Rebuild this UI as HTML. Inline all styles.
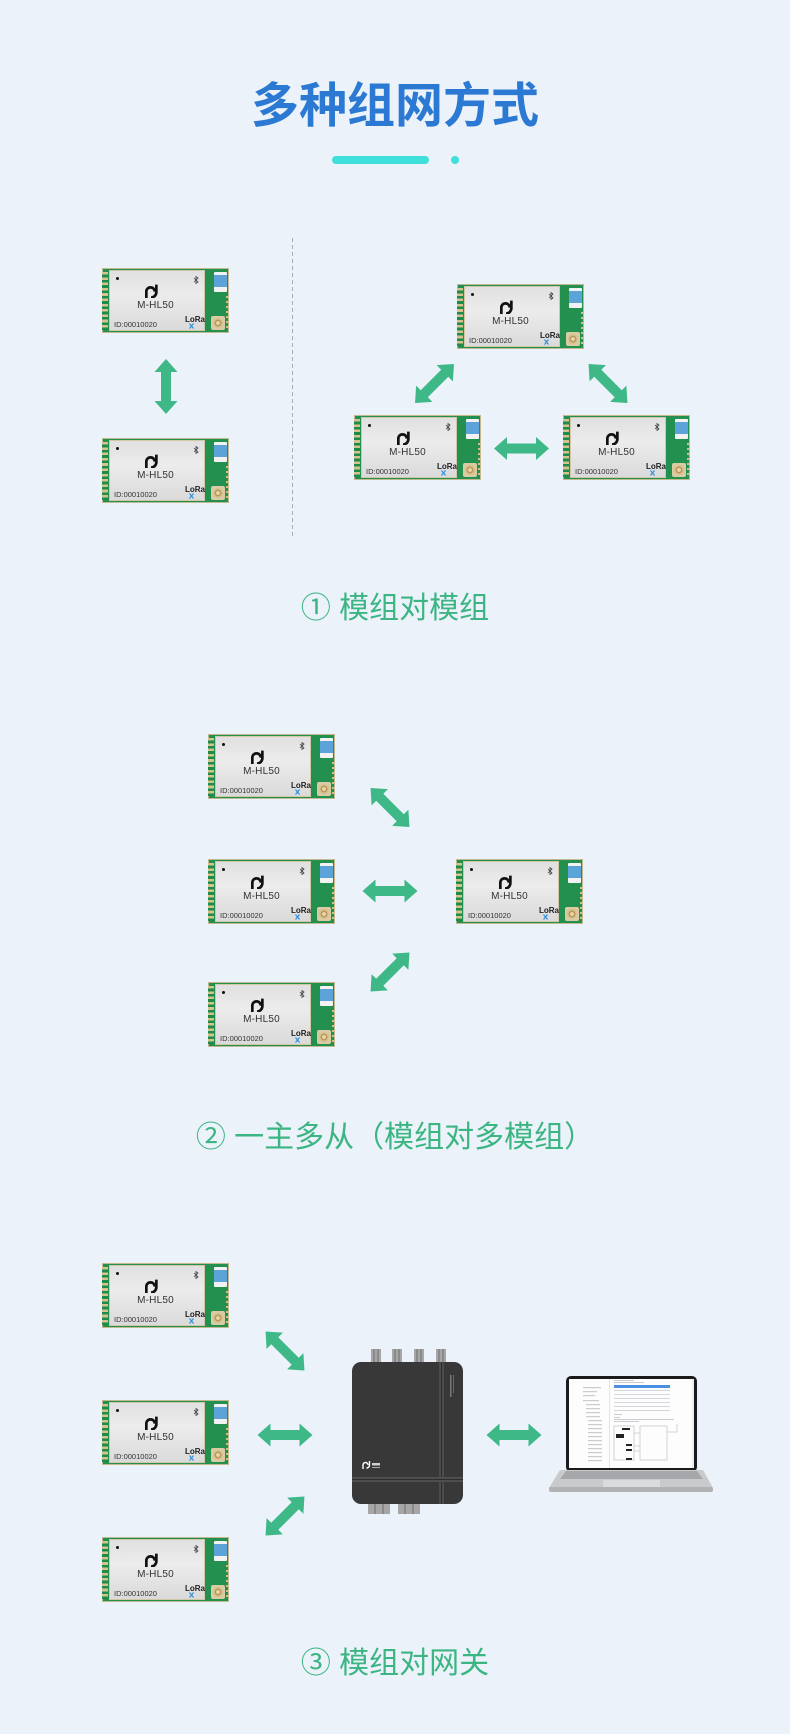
<!DOCTYPE html>
<html><head><meta charset="utf-8">
<style>
*{margin:0;padding:0}
html,body{width:790px;height:1734px;overflow:hidden;background:#ebf2fa}
body{position:relative;font-family:"Liberation Sans","Noto Sans CJK SC",sans-serif}
.t{position:absolute;left:0;top:83px;width:790px;text-align:center;font-size:48px;line-height:48px;font-weight:700;color:#2b79d3;font-family:"Liberation Sans","Noto Sans CJK SC",sans-serif}
.bar{position:absolute;left:332px;top:156px;width:97px;height:8px;border-radius:4px;background:#3fe0dc}
.dt{position:absolute;left:451px;top:156px;width:8px;height:8px;border-radius:50%;background:#3fe0dc}
.lb{position:absolute;left:0;width:790px;text-align:center;font-size:30px;line-height:30px;color:#3cb583;font-family:"Liberation Sans","Noto Sans CJK SC",sans-serif}
.m{position:absolute;width:127px;height:65px;background:#23904f;box-shadow:inset 0 0 0 1px #c2b98f}
.m .p{position:absolute;left:0;top:4px;width:6px;height:58px;background:repeating-linear-gradient(#d3c48d 0 2.6px,#1f8a4a 2.6px 5.3px)}
.m .s{position:absolute;left:7px;top:2px;width:96px;height:61px;box-sizing:border-box;border:1px solid #d0c6a8;background:linear-gradient(180deg,#e0e0e0,#ececec 40%,#dadada)}
.m .c{position:absolute;left:112px;top:4px;width:13px;height:20px;border-radius:1px;background:linear-gradient(#f2f2f2 0 3px,#5ba3d8 3px 15px,#f2f2f2 15px)}
.m .x{position:absolute;left:109px;top:48px;width:14px;height:14px;border-radius:2px;background:#d9cba3}
.m .x::after{content:"";position:absolute;left:2px;top:2px;width:10px;height:10px;border-radius:50%;background:radial-gradient(circle,#e6d6a8 0 25%,#b8965c 30% 45%,#d6c08a 50%)}
.m .r{position:absolute;left:124px;top:28px;width:3px;height:33px;background:repeating-linear-gradient(#cfc08b 0 2px,transparent 2px 5px)}
.m .d{position:absolute;left:6px;top:6px;width:3px;height:3px;border-radius:50%;background:#111}
.m .g{position:absolute;left:34px;top:13px;width:14px;height:14px}
.m .b{position:absolute;left:83px;top:5px;width:6px;height:8px}
.m .n{position:absolute;left:0;top:29px;width:91px;text-align:center;font-size:10px;line-height:12px;color:#333;white-space:nowrap;letter-spacing:.2px}
.m .i{position:absolute;left:4px;top:49px;font-size:7.5px;line-height:10px;color:#333;white-space:nowrap}
.m .l{position:absolute;left:75px;top:44px;font-size:8px;line-height:10px;font-weight:700;color:#222}
.m .a{position:absolute;left:79px;top:52px;width:5px;height:6px}
svg.o{position:absolute;left:0;top:0}
</style></head><body>

<div class="t">多种组网方式</div>
<div class="bar"></div><div class="dt"></div>

<svg class="o" width="790" height="1734" viewBox="0 0 790 1734">
<defs><polygon id="ar" points="-27.5,0 -14.5,-11.5 -14.5,-5 14.5,-5 14.5,-11.5 27.5,0 14.5,11.5 14.5,5 -14.5,5 -14.5,11.5" fill="#3db886"/></defs>
<line x1="292.5" y1="238" x2="292.5" y2="537" stroke="#a9adb3" stroke-width="1" stroke-dasharray="4 3"/>
<use href="#ar" transform="translate(166 386.5) rotate(90)"/>
<use href="#ar" transform="translate(434.5 383.5) rotate(-45)"/>
<use href="#ar" transform="translate(608 383.5) rotate(45)"/>
<use href="#ar" transform="translate(521.5 448.5)"/>
<use href="#ar" transform="translate(390 807.5) rotate(45)"/>
<use href="#ar" transform="translate(390 891)"/>
<use href="#ar" transform="translate(390 972) rotate(-45)"/>
<use href="#ar" transform="translate(285 1351) rotate(45)"/>
<use href="#ar" transform="translate(285 1435)"/>
<use href="#ar" transform="translate(285 1516) rotate(-45)"/>
<use href="#ar" transform="translate(514 1435)"/>

<g fill="#a6a6a6">
<rect x="371" y="1349" width="10" height="14"/><rect x="392" y="1349" width="10" height="14"/><rect x="414" y="1349" width="10" height="14"/><rect x="436" y="1349" width="10" height="14"/>
<rect x="368" y="1500" width="22" height="14"/><rect x="398" y="1500" width="22" height="14"/>
</g>
<g stroke="#6d6d6d" stroke-width="1">
<line x1="374" y1="1349" x2="374" y2="1362"/><line x1="378" y1="1349" x2="378" y2="1362"/>
<line x1="395" y1="1349" x2="395" y2="1362"/><line x1="399" y1="1349" x2="399" y2="1362"/>
<line x1="417" y1="1349" x2="417" y2="1362"/><line x1="421" y1="1349" x2="421" y2="1362"/>
<line x1="439" y1="1349" x2="439" y2="1362"/><line x1="443" y1="1349" x2="443" y2="1362"/>
<line x1="375" y1="1504" x2="375" y2="1514"/><line x1="383" y1="1504" x2="383" y2="1514"/>
<line x1="405" y1="1504" x2="405" y2="1514"/><line x1="413" y1="1504" x2="413" y2="1514"/>
</g>
<rect x="352" y="1362" width="111" height="142" rx="9" fill="#383838"/>
<rect x="439" y="1362" width="5" height="142" fill="#4c4c4c"/>
<rect x="441" y="1362" width="1" height="142" fill="#2c2c2c"/>
<rect x="352" y="1477" width="111" height="5" fill="#4e4e4e"/>
<rect x="352" y="1479" width="111" height="1" fill="#2c2c2c"/>
<path d="M363 1469v-4a2.5 2.5 0 0 1 5 0M369.5 1461v4a3 3 0 0 1-3 3" fill="none" stroke="#fff" stroke-width="1.4"/>
<rect x="372" y="1463" width="8" height="2.5" fill="#cfcfcf"/><rect x="372" y="1467" width="8" height="1" fill="#aaa"/>
<rect x="450" y="1375" width="1.5" height="22" fill="#777"/><rect x="453" y="1375" width="1" height="18" fill="#666"/>

<rect x="566" y="1376" width="131" height="96" rx="5" fill="#1b1b1b"/>
<rect x="569" y="1379" width="125" height="89" fill="#fdfdfd"/>
<g fill="#c9ccd1">
<rect x="583" y="1387" width="18" height="1.2"/><rect x="583" y="1391" width="14" height="1.2"/><rect x="583" y="1395" width="12" height="1.2"/><rect x="583" y="1400" width="16" height="1.2"/>
<rect x="586" y="1404" width="14" height="1.2"/><rect x="586" y="1408" width="14" height="1.2"/><rect x="586" y="1412" width="14" height="1.2"/><rect x="586" y="1416" width="14" height="1.2"/>
<rect x="588" y="1420" width="14" height="1.2"/><rect x="588" y="1424" width="14" height="1.2"/><rect x="588" y="1428" width="14" height="1.2"/><rect x="588" y="1432" width="14" height="1.2"/>
<rect x="588" y="1436" width="14" height="1.2"/><rect x="588" y="1440" width="14" height="1.2"/><rect x="588" y="1444" width="14" height="1.2"/><rect x="588" y="1448" width="14" height="1.2"/>
<rect x="588" y="1452" width="14" height="1.2"/><rect x="588" y="1456" width="14" height="1.2"/><rect x="588" y="1460" width="14" height="1.2"/>
<rect x="614" y="1380" width="20" height="1"/><rect x="614" y="1382" width="30" height="1"/>
<rect x="614" y="1390" width="56" height="0.8"/><rect x="614" y="1394" width="56" height="0.8"/><rect x="614" y="1398" width="56" height="0.8"/><rect x="614" y="1402" width="56" height="0.8"/><rect x="614" y="1406" width="56" height="0.8"/><rect x="614" y="1410" width="56" height="0.8"/>
<rect x="614" y="1414" width="8" height="1"/><rect x="614" y="1417" width="6" height="1"/><rect x="614" y="1419" width="60" height="1"/><rect x="614" y="1421" width="25" height="1"/>
</g>
<rect x="614" y="1385" width="56" height="3" fill="#4a90e2"/>
<rect x="609" y="1379" width="1" height="89" fill="#e2e4e8"/>
<g fill="none" stroke="#c5c8cc" stroke-width=".8">
<rect x="614" y="1426" width="20" height="34"/><rect x="640" y="1426" width="27" height="34"/>
<path d="M634 1433h6M634 1446h6M634 1451h6M667 1432h10v-8"/>
</g>
<g fill="#222"><rect x="622" y="1428" width="8" height="2"/><rect x="616" y="1434" width="8" height="4"/><rect x="626" y="1444" width="6" height="2"/><rect x="626" y="1449" width="6" height="2"/><rect x="626" y="1458" width="6" height="2"/></g>
<rect x="692" y="1379" width="2" height="89" fill="#eee"/>
<polygon points="560,1470 703,1470 713,1488 549,1488" fill="#c9cacc"/>
<polygon points="566,1471 697,1471 703,1479 560,1479" fill="#a5a7aa"/>
<rect x="603" y="1480" width="57" height="7" fill="#dadbdd"/>
<rect x="549" y="1487" width="164" height="5" rx="2" fill="#b1b2b4"/>
</svg>

<div class="m" style="left:102px;top:268px"><i class="p"></i><div class="s"><i class="d"></i><svg class="g" viewBox="0 0 12 12"><path d="M2 12V6.5a3.6 3.6 0 0 1 7.2 0M10.6 0.5V7a4.6 4.6 0 0 1-4.6 4.6" fill="none" stroke="#111" stroke-width="2.3"/></svg><svg class="b" viewBox="0 0 6 8"><path d="M1 2l4 4-2 1.5V0.5L5 2 1 6" fill="none" stroke="#444" stroke-width=".8"/></svg><span class="n">M-HL50</span><span class="i">ID:00010020</span><span class="l">LoRa</span><svg class="a" viewBox="0 0 5 6"><path d="M0.5 0.5l4 5M4.5 0.5l-4 5" stroke="#2f8fe0" stroke-width="1.2"/></svg></div><i class="c"></i><i class="x"></i><i class="r"></i></div>
<div class="m" style="left:102px;top:438px"><i class="p"></i><div class="s"><i class="d"></i><svg class="g" viewBox="0 0 12 12"><path d="M2 12V6.5a3.6 3.6 0 0 1 7.2 0M10.6 0.5V7a4.6 4.6 0 0 1-4.6 4.6" fill="none" stroke="#111" stroke-width="2.3"/></svg><svg class="b" viewBox="0 0 6 8"><path d="M1 2l4 4-2 1.5V0.5L5 2 1 6" fill="none" stroke="#444" stroke-width=".8"/></svg><span class="n">M-HL50</span><span class="i">ID:00010020</span><span class="l">LoRa</span><svg class="a" viewBox="0 0 5 6"><path d="M0.5 0.5l4 5M4.5 0.5l-4 5" stroke="#2f8fe0" stroke-width="1.2"/></svg></div><i class="c"></i><i class="x"></i><i class="r"></i></div>
<div class="m" style="left:457px;top:284px"><i class="p"></i><div class="s"><i class="d"></i><svg class="g" viewBox="0 0 12 12"><path d="M2 12V6.5a3.6 3.6 0 0 1 7.2 0M10.6 0.5V7a4.6 4.6 0 0 1-4.6 4.6" fill="none" stroke="#111" stroke-width="2.3"/></svg><svg class="b" viewBox="0 0 6 8"><path d="M1 2l4 4-2 1.5V0.5L5 2 1 6" fill="none" stroke="#444" stroke-width=".8"/></svg><span class="n">M-HL50</span><span class="i">ID:00010020</span><span class="l">LoRa</span><svg class="a" viewBox="0 0 5 6"><path d="M0.5 0.5l4 5M4.5 0.5l-4 5" stroke="#2f8fe0" stroke-width="1.2"/></svg></div><i class="c"></i><i class="x"></i><i class="r"></i></div>
<div class="m" style="left:354px;top:415px"><i class="p"></i><div class="s"><i class="d"></i><svg class="g" viewBox="0 0 12 12"><path d="M2 12V6.5a3.6 3.6 0 0 1 7.2 0M10.6 0.5V7a4.6 4.6 0 0 1-4.6 4.6" fill="none" stroke="#111" stroke-width="2.3"/></svg><svg class="b" viewBox="0 0 6 8"><path d="M1 2l4 4-2 1.5V0.5L5 2 1 6" fill="none" stroke="#444" stroke-width=".8"/></svg><span class="n">M-HL50</span><span class="i">ID:00010020</span><span class="l">LoRa</span><svg class="a" viewBox="0 0 5 6"><path d="M0.5 0.5l4 5M4.5 0.5l-4 5" stroke="#2f8fe0" stroke-width="1.2"/></svg></div><i class="c"></i><i class="x"></i><i class="r"></i></div>
<div class="m" style="left:563px;top:415px"><i class="p"></i><div class="s"><i class="d"></i><svg class="g" viewBox="0 0 12 12"><path d="M2 12V6.5a3.6 3.6 0 0 1 7.2 0M10.6 0.5V7a4.6 4.6 0 0 1-4.6 4.6" fill="none" stroke="#111" stroke-width="2.3"/></svg><svg class="b" viewBox="0 0 6 8"><path d="M1 2l4 4-2 1.5V0.5L5 2 1 6" fill="none" stroke="#444" stroke-width=".8"/></svg><span class="n">M-HL50</span><span class="i">ID:00010020</span><span class="l">LoRa</span><svg class="a" viewBox="0 0 5 6"><path d="M0.5 0.5l4 5M4.5 0.5l-4 5" stroke="#2f8fe0" stroke-width="1.2"/></svg></div><i class="c"></i><i class="x"></i><i class="r"></i></div>

<div class="lb" style="top:594px">① 模组对模组</div>

<div class="m" style="left:208px;top:734px"><i class="p"></i><div class="s"><i class="d"></i><svg class="g" viewBox="0 0 12 12"><path d="M2 12V6.5a3.6 3.6 0 0 1 7.2 0M10.6 0.5V7a4.6 4.6 0 0 1-4.6 4.6" fill="none" stroke="#111" stroke-width="2.3"/></svg><svg class="b" viewBox="0 0 6 8"><path d="M1 2l4 4-2 1.5V0.5L5 2 1 6" fill="none" stroke="#444" stroke-width=".8"/></svg><span class="n">M-HL50</span><span class="i">ID:00010020</span><span class="l">LoRa</span><svg class="a" viewBox="0 0 5 6"><path d="M0.5 0.5l4 5M4.5 0.5l-4 5" stroke="#2f8fe0" stroke-width="1.2"/></svg></div><i class="c"></i><i class="x"></i><i class="r"></i></div>
<div class="m" style="left:208px;top:859px"><i class="p"></i><div class="s"><i class="d"></i><svg class="g" viewBox="0 0 12 12"><path d="M2 12V6.5a3.6 3.6 0 0 1 7.2 0M10.6 0.5V7a4.6 4.6 0 0 1-4.6 4.6" fill="none" stroke="#111" stroke-width="2.3"/></svg><svg class="b" viewBox="0 0 6 8"><path d="M1 2l4 4-2 1.5V0.5L5 2 1 6" fill="none" stroke="#444" stroke-width=".8"/></svg><span class="n">M-HL50</span><span class="i">ID:00010020</span><span class="l">LoRa</span><svg class="a" viewBox="0 0 5 6"><path d="M0.5 0.5l4 5M4.5 0.5l-4 5" stroke="#2f8fe0" stroke-width="1.2"/></svg></div><i class="c"></i><i class="x"></i><i class="r"></i></div>
<div class="m" style="left:208px;top:982px"><i class="p"></i><div class="s"><i class="d"></i><svg class="g" viewBox="0 0 12 12"><path d="M2 12V6.5a3.6 3.6 0 0 1 7.2 0M10.6 0.5V7a4.6 4.6 0 0 1-4.6 4.6" fill="none" stroke="#111" stroke-width="2.3"/></svg><svg class="b" viewBox="0 0 6 8"><path d="M1 2l4 4-2 1.5V0.5L5 2 1 6" fill="none" stroke="#444" stroke-width=".8"/></svg><span class="n">M-HL50</span><span class="i">ID:00010020</span><span class="l">LoRa</span><svg class="a" viewBox="0 0 5 6"><path d="M0.5 0.5l4 5M4.5 0.5l-4 5" stroke="#2f8fe0" stroke-width="1.2"/></svg></div><i class="c"></i><i class="x"></i><i class="r"></i></div>
<div class="m" style="left:456px;top:859px"><i class="p"></i><div class="s"><i class="d"></i><svg class="g" viewBox="0 0 12 12"><path d="M2 12V6.5a3.6 3.6 0 0 1 7.2 0M10.6 0.5V7a4.6 4.6 0 0 1-4.6 4.6" fill="none" stroke="#111" stroke-width="2.3"/></svg><svg class="b" viewBox="0 0 6 8"><path d="M1 2l4 4-2 1.5V0.5L5 2 1 6" fill="none" stroke="#444" stroke-width=".8"/></svg><span class="n">M-HL50</span><span class="i">ID:00010020</span><span class="l">LoRa</span><svg class="a" viewBox="0 0 5 6"><path d="M0.5 0.5l4 5M4.5 0.5l-4 5" stroke="#2f8fe0" stroke-width="1.2"/></svg></div><i class="c"></i><i class="x"></i><i class="r"></i></div>

<div class="lb" style="top:1123px">② 一主多从（模组对多模组）</div>

<div class="m" style="left:102px;top:1263px"><i class="p"></i><div class="s"><i class="d"></i><svg class="g" viewBox="0 0 12 12"><path d="M2 12V6.5a3.6 3.6 0 0 1 7.2 0M10.6 0.5V7a4.6 4.6 0 0 1-4.6 4.6" fill="none" stroke="#111" stroke-width="2.3"/></svg><svg class="b" viewBox="0 0 6 8"><path d="M1 2l4 4-2 1.5V0.5L5 2 1 6" fill="none" stroke="#444" stroke-width=".8"/></svg><span class="n">M-HL50</span><span class="i">ID:00010020</span><span class="l">LoRa</span><svg class="a" viewBox="0 0 5 6"><path d="M0.5 0.5l4 5M4.5 0.5l-4 5" stroke="#2f8fe0" stroke-width="1.2"/></svg></div><i class="c"></i><i class="x"></i><i class="r"></i></div>
<div class="m" style="left:102px;top:1400px"><i class="p"></i><div class="s"><i class="d"></i><svg class="g" viewBox="0 0 12 12"><path d="M2 12V6.5a3.6 3.6 0 0 1 7.2 0M10.6 0.5V7a4.6 4.6 0 0 1-4.6 4.6" fill="none" stroke="#111" stroke-width="2.3"/></svg><svg class="b" viewBox="0 0 6 8"><path d="M1 2l4 4-2 1.5V0.5L5 2 1 6" fill="none" stroke="#444" stroke-width=".8"/></svg><span class="n">M-HL50</span><span class="i">ID:00010020</span><span class="l">LoRa</span><svg class="a" viewBox="0 0 5 6"><path d="M0.5 0.5l4 5M4.5 0.5l-4 5" stroke="#2f8fe0" stroke-width="1.2"/></svg></div><i class="c"></i><i class="x"></i><i class="r"></i></div>
<div class="m" style="left:102px;top:1537px"><i class="p"></i><div class="s"><i class="d"></i><svg class="g" viewBox="0 0 12 12"><path d="M2 12V6.5a3.6 3.6 0 0 1 7.2 0M10.6 0.5V7a4.6 4.6 0 0 1-4.6 4.6" fill="none" stroke="#111" stroke-width="2.3"/></svg><svg class="b" viewBox="0 0 6 8"><path d="M1 2l4 4-2 1.5V0.5L5 2 1 6" fill="none" stroke="#444" stroke-width=".8"/></svg><span class="n">M-HL50</span><span class="i">ID:00010020</span><span class="l">LoRa</span><svg class="a" viewBox="0 0 5 6"><path d="M0.5 0.5l4 5M4.5 0.5l-4 5" stroke="#2f8fe0" stroke-width="1.2"/></svg></div><i class="c"></i><i class="x"></i><i class="r"></i></div>

<div class="lb" style="top:1649px">③ 模组对网关</div>

</body></html>
